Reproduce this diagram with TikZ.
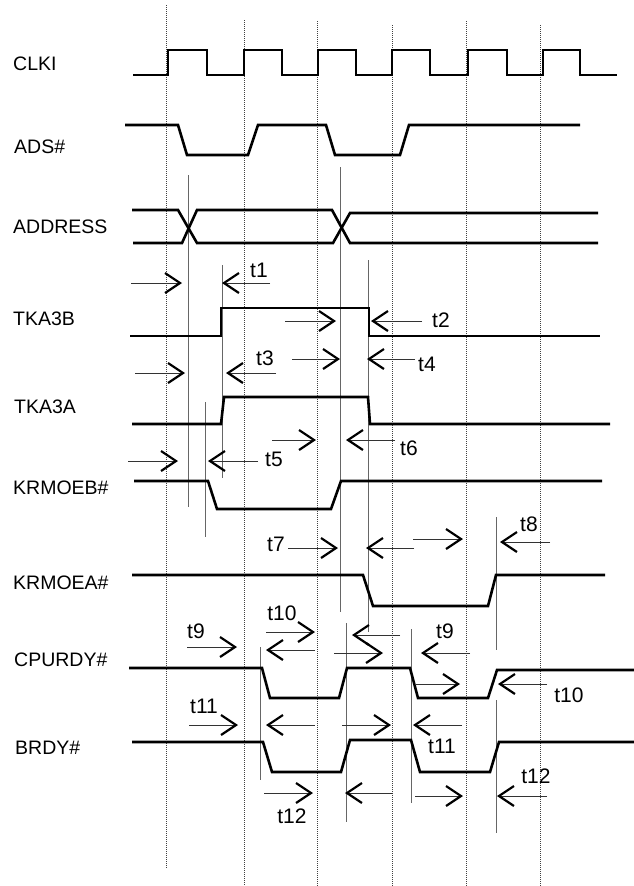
\documentclass[tikz,border=0pt]{standalone}
\usepackage{fontspec}
\setmainfont{Liberation Sans}
\usetikzlibrary{arrows.meta}
\tikzset{
  sig/.style={line width=2.6pt, line join=miter, line cap=butt},
  clkdot/.style={line width=0.8pt, black!75, dash pattern=on 1pt off 1pt},
  guide/.style={line width=0.8pt, black!60},
  tarr/.style={line width=0.8pt, black!80, -{Straight Barb[length=15pt,width=20pt,line width=2.2pt,black]}},
  sname/.style={anchor=west, font=\fontsize{19.5}{19.5}\selectfont, inner sep=0pt},
  tlab/.style={font=\fontsize{21}{21}\selectfont, inner sep=0pt}
}
\begin{document}
\begin{tikzpicture}[x=1pt,y=-1pt]
\useasboundingbox[fill=white] (0,0) rectangle (634,886);
% clock edge dotted lines
\draw[clkdot] (166,5) -- (166,869);
\draw[clkdot] (244,20) -- (244,886);
\draw[clkdot] (317,21) -- (317,886);
\draw[clkdot] (392,25) -- (392,886);
\draw[clkdot] (466,21) -- (466,886);
\draw[clkdot] (540,25) -- (540,886);
% solid guide lines
\draw[guide] (188,175) -- (188,507);
\draw[guide] (340,167) -- (340,612);
\draw[guide] (222,265) -- (222,478);
\draw[guide] (205,402) -- (205,537);
\draw[guide] (368,260) -- (368,632);
\draw[guide] (496,517) -- (496,650);
\draw[guide] (260,647) -- (260,780);
\draw[guide] (346,623) -- (346,822);
\draw[guide] (411,629) -- (411,803);
\draw[guide] (496,700) -- (496,833);
% signal names
\node[sname] (nclk) at (13,64) {CLKI};
\node[sname] (nads) at (14,147) {ADS\#};
\node[sname] (naddr) at (13,227) {ADDRESS};
\node[sname] (ntkb) at (13,319) {TKA3B};
\node[sname] (ntka) at (14,407) {TKA3A};
\node[sname] (nkrb) at (13,488) {KRMOEB\#};
\node[sname] (nkra) at (13,583) {KRMOEA\#};
\node[sname] (ncpu) at (14,660) {CPURDY\#};
\node[sname] (nbrdy) at (15,748) {BRDY\#};
% CLKI
\draw[sig] (133,75) -- (168,75) -- (168,50) -- (207,50) -- (207,75) -- (244,75) -- (244,50) -- (282,50) -- (282,75)
  -- (318,75) -- (318,50) -- (356,50) -- (356,75) -- (392,75) -- (392,50) -- (430,50) -- (430,75)
  -- (468,75) -- (468,50) -- (507,50) -- (507,75) -- (543,75) -- (543,50) -- (580,50) -- (580,75) -- (617,75);
% ADS#
\draw[sig] (125,125) -- (178,125) -- (187,155) -- (248,155) -- (258,125) -- (326,125) -- (335,155) -- (400,155) -- (409,125) -- (580,125);
% ADDRESS
\draw[sig] (132,210) -- (178,210) -- (197,243) -- (333,243) -- (350,213) -- (598,213);
\draw[sig] (133,243) -- (182,243) -- (197,210) -- (332,210) -- (350,243) -- (598,243);
% TKA3B
\draw[sig] (130,336) -- (221,336) -- (221,308) -- (369,308) -- (369,336) -- (600,336);
% TKA3A
\draw[sig] (132,424) -- (221,424) -- (224,397) -- (368,397) -- (370,424) -- (610,424);
% KRMOEB#
\draw[sig] (134,481) -- (208,481) -- (217,509) -- (331,509) -- (341,481) -- (602,481);
% KRMOEA#
\draw[sig] (132,575) -- (363,575) -- (373,606) -- (488,606) -- (496,575) -- (605,575);
% CPURDY#
\draw[sig] (129,668) -- (262,668) -- (270,698) -- (339,698) -- (347,668) -- (410,668) -- (418,698) -- (488,698) -- (497,670) -- (634,670);
% BRDY#
\draw[sig] (132,742) -- (263,742) -- (272,772) -- (341,772) -- (350,740) -- (411,740) -- (420,772) -- (490,772) -- (499,742) -- (634,742);
% timing arrows and labels
\draw[tarr] (131,283) -- (182,283);
\draw[tarr] (270,283) -- (222,283);
\node[tlab] (t1) at (259,270) {t1};
\draw[tarr] (285,321) -- (336,321);
\draw[tarr] (422,321) -- (371,321);
\node[tlab] (t2) at (441,320) {t2};
\draw[tarr] (135,373) -- (185,373);
\draw[tarr] (276,373) -- (226,373);
\node[tlab] (t3) at (265,358) {t3};
\draw[tarr] (292,359) -- (340,359);
\draw[tarr] (415,359) -- (367,359);
\node[tlab] (t4) at (427,364) {t4};
\draw[tarr] (128,461) -- (178,461);
\draw[tarr] (258,461) -- (208,461);
\node[tlab] (t5) at (274,459) {t5};
\draw[tarr] (272,440) -- (316,440);
\draw[tarr] (395,440) -- (346,440);
\node[tlab] (t6) at (409,448) {t6};
\draw[tarr] (288,548) -- (338,548);
\node[tlab] (t7) at (276,544) {t7};
\draw[tarr] (414,548) -- (366,548);
\draw[tarr] (413,539) -- (463,539);
\draw[tarr] (550,542) -- (500,542);
\node[tlab] (t8) at (529,524) {t8};
\draw[tarr] (187,647) -- (237,647);
\node[tlab] (t9a) at (196,631) {t9};
\draw[tarr] (266,632) -- (315,632);
\draw[tarr] (315,650) -- (266,650);
\node[tlab] (t10a) at (282,613) {t10};
\draw[tarr] (400,635) -- (352,635);
\draw[tarr] (334,653) -- (383,653);
\draw[tarr] (470,653) -- (421,653);
\node[tlab] (t9b) at (445,631) {t9};
\draw[tarr] (415,684) -- (460,684);
\draw[tarr] (547,684) -- (498,684);
\node[tlab] (t10b) at (569,695) {t10};
\draw[tarr] (189,725) -- (238,725);
\node[tlab] (t11a) at (204,706) {t11};
\draw[tarr] (315,725) -- (266,725);
\draw[tarr] (342,725) -- (391,725);
\draw[tarr] (462,725) -- (413,725);
\node[tlab] (t11b) at (442,746) {t11};
\draw[tarr] (264,793) -- (313,793);
\node[tlab] (t12a) at (292,816) {t12};
\draw[tarr] (393,793) -- (345,793);
\draw[tarr] (415,796) -- (463,796);
\draw[tarr] (547,796) -- (497,796);
\node[tlab] (t12b) at (536,776) {t12};
\end{tikzpicture}
\end{document}
